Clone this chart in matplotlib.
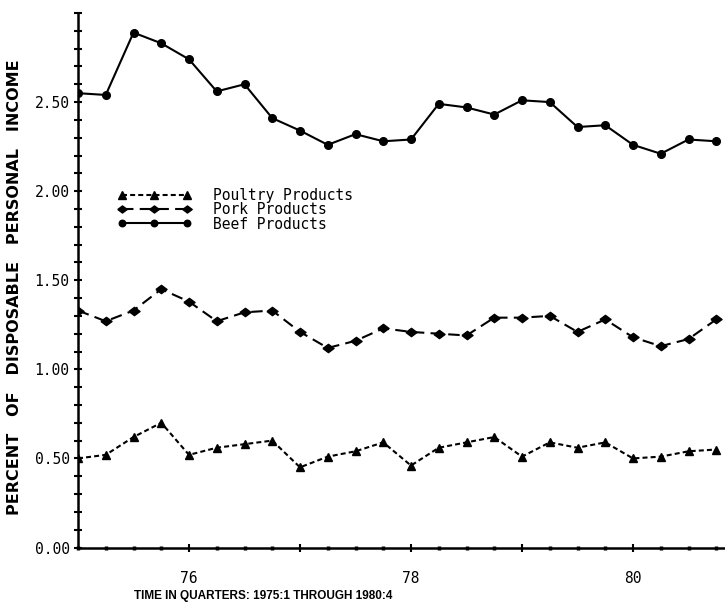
import numpy as np
import matplotlib
matplotlib.use('Agg')
import matplotlib.pyplot as plt
from matplotlib.ticker import MultipleLocator, FixedLocator, FixedFormatter

# quarters 1975:1 .. 1980:4
quarters = [75 + 0.25 * i for i in range(24)]

beef = [2.55, 2.54, 2.89, 2.83, 2.74, 2.56, 2.60, 2.41,
        2.34, 2.26, 2.32, 2.28, 2.29, 2.49, 2.47, 2.43,
        2.51, 2.50, 2.36, 2.37, 2.26, 2.21, 2.29, 2.28]

pork = [1.33, 1.27, 1.33, 1.45, 1.38, 1.27, 1.32, 1.33,
        1.21, 1.12, 1.16, 1.23, 1.21, 1.20, 1.19, 1.29,
        1.29, 1.30, 1.21, 1.28, 1.18, 1.13, 1.17, 1.28]

poultry = [0.50, 0.52, 0.62, 0.70, 0.52, 0.56, 0.58, 0.60,
           0.45, 0.51, 0.54, 0.59, 0.46, 0.56, 0.59, 0.62,
           0.51, 0.59, 0.56, 0.59, 0.50, 0.51, 0.54, 0.55]

series_labels = ['Poultry Products', 'Pork Products', 'Beef Products']
ytick_vals = [0.0, 0.5, 1.0, 1.5, 2.0, 2.5, 3.0]
ytick_text = ['0.00', '0.50', '1.00', '1.50', '2.00', '2.50', '']
xtick_vals = [76, 77, 78, 79, 80]
xtick_text = ['76', '', '78', '', '80']

W, H = 725, 614
fig = plt.figure(figsize=(W / 100, H / 100), dpi=100)
ax = fig.add_axes([78 / W, 1 - 547.5 / H, 1 - 78 / W, (547.5 - 13) / H])

mono = 'DejaVu Sans Mono'
diamond = [(-1, 0), (0, 0.75), (1, 0), (0, -0.75), (-1, 0)]

l1, = ax.plot(quarters, poultry, color='black', lw=1.5, marker='^', ms=6,
              dashes=(2.4, 1.5))
l2, = ax.plot(quarters, pork, color='black', lw=1.5, marker=diamond, ms=8,
              dashes=(5.5, 3.0))
l3, = ax.plot(quarters, beef, color='black', lw=1.5, marker='o', ms=5.5)

ax.set_xlim(75, 75 + (W - 78) / 111.0)
ax.set_ylim(0, 3.0)

for s in ['top', 'right']:
    ax.spines[s].set_visible(False)
for s in ['left', 'bottom']:
    ax.spines[s].set_linewidth(1.8)

ax.yaxis.set_major_locator(FixedLocator(ytick_vals))
ax.yaxis.set_major_formatter(FixedFormatter(ytick_text))
ax.yaxis.set_minor_locator(MultipleLocator(0.1))
ax.xaxis.set_major_locator(FixedLocator(xtick_vals))
ax.xaxis.set_major_formatter(FixedFormatter(xtick_text))
ax.xaxis.set_minor_locator(MultipleLocator(0.25))

ax.tick_params(axis='y', which='both', direction='inout', length=6, width=1.5,
               pad=3, labelsize=10.5)
ax.tick_params(axis='x', which='major', direction='inout', length=6, width=1.5,
               pad=14, labelsize=10.5)
ax.tick_params(axis='x', which='minor', direction='inout', length=3, width=2.5)
for lab in ax.get_xticklabels() + ax.get_yticklabels():
    lab.set_family(mono)

leg = ax.legend([l1, l2, l3], series_labels, loc='upper left',
                bbox_to_anchor=(118 / W, 1 - 188 / H),
                bbox_transform=fig.transFigure, frameon=False, numpoints=3,
                handlelength=5.0, handletextpad=1.5, labelspacing=-0.05,
                markerscale=0.85, borderpad=0, borderaxespad=0,
                prop={'family': mono, 'size': 10.5})

fig.text(15 / W, 1 - 287 / H, 'PERCENT   OF   DISPOSABLE   PERSONAL   INCOME',
         rotation=90, ha='center', va='center', fontsize=11.5, fontweight='bold')
fig.text(263 / W, 1 - 596 / H, 'TIME IN QUARTERS: 1975:1 THROUGH 1980:4',
         ha='center', va='center', fontsize=8.5, fontweight='bold',
         family='Liberation Sans')

fig.savefig('out.png', dpi=100)
